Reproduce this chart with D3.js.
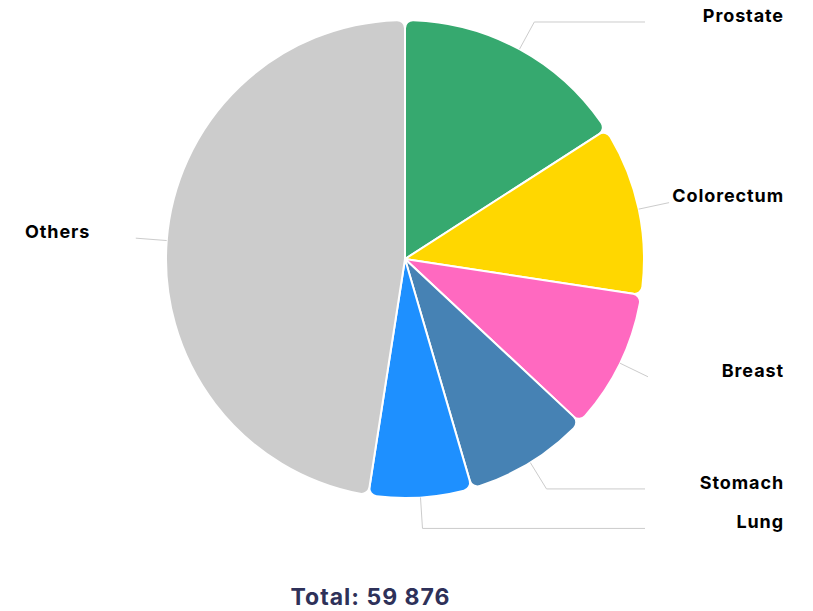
<!DOCTYPE html>
<html><head><meta charset="utf-8">
<script src="https://cdn.jsdelivr.net/npm/d3@7"></script>
<style>body{margin:0;background:#fff}svg{display:block}</style>
</head><body>
<script>
const categories = ["Prostate","Colorectum","Breast","Stomach","Lung","Others"];
const values = [9520, 6890, 5720, 5100, 4180, 28466];
const colors = ["#36a96f","#ffd700","#ff69c0","#4682b4","#1e90ff","#cccccc"];
const totalLabel = "Total: 59 876";

const W = 813, H = 611;
const cx = 405, cy = 259, r = 239;
const svg = d3.select("body").append("svg").attr("width", W).attr("height", H);
const g = svg.append("g").attr("transform", `translate(${cx},${cy})`);

const data = categories.map((c,i)=>({name:c, value:values[i], color:colors[i]}));
const pie = d3.pie().value(d=>d.value).sort(null);
const arcs = pie(data);
const arc = d3.arc().innerRadius(0).outerRadius(r).cornerRadius(8);

g.selectAll("path.slice").data(arcs).join("path")
  .attr("class","slice")
  .attr("d", arc)
  .attr("fill", d=>d.data.color)
  .attr("stroke","#fff").attr("stroke-width",2).attr("stroke-linejoin","round");

const ext = 31;
arcs.forEach(d=>{
  const a = (d.startAngle + d.endAngle)/2;
  const p1 = [r*Math.sin(a), -r*Math.cos(a)];
  const p2 = [(r+ext)*Math.sin(a), -(r+ext)*Math.cos(a)];
  const right = Math.sin(a) >= 0;
  let x3;
  if (right) x3 = Math.max(p2[0], 645 - cx); else x3 = p2[0];
  g.append("polyline")
    .attr("points", [p1, p2, [x3, p2[1]]].map(p=>p.join(",")).join(" "))
    .attr("fill","none").attr("stroke","#cccccc").attr("stroke-width",1);
  svg.append("text")
    .attr("x", right ? 784 : 25)
    .attr("y", cy + p2[1] - 6.5)
    .attr("dy","0.35em")
    .attr("text-anchor", right ? "end" : "start")
    .attr("font-family","Inter, 'Noto Sans', sans-serif")
    .attr("font-weight",700).attr("font-size",18)
    .attr("letter-spacing", "0.9px")
    .attr("fill","#000")
    .text(d.data.name);
});

svg.append("text")
  .attr("x", 370.5).attr("y", 596.5).attr("dy","0.35em")
  .attr("text-anchor","middle")
  .attr("font-family","Inter, 'Noto Sans', sans-serif")
  .attr("font-weight",700).attr("font-size",23)
  .attr("letter-spacing","1px")
  .attr("fill","#2e3159")
  .text(totalLabel);
</script>
</body></html>
